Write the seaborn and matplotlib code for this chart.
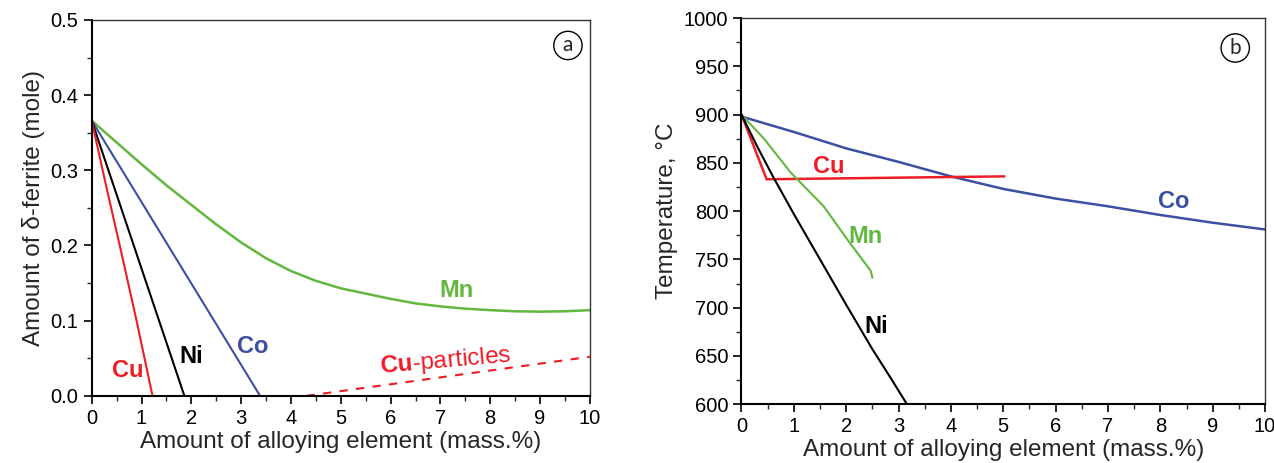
import numpy as np
import pandas as pd
import matplotlib
matplotlib.use("Agg")
import matplotlib.pyplot as plt
import seaborn as sns

# ---------- data: panel (a) ----------
cu_a_x = [0.0, 0.3, 0.6, 0.9, 1.22]
cu_a_y = [0.366, 0.276, 0.189, 0.100, 0.0]
ni_a_x = [0.0, 1.86]
ni_a_y = [0.366, 0.0]
co_a_x = [0.0, 3.38]
co_a_y = [0.366, 0.0]
mn_a_x = [0.0, 0.5, 1.0, 1.5, 2.0, 2.5, 3.0, 3.5, 4.0, 4.5, 5.0, 5.5,
          6.0, 6.5, 7.0, 7.5, 8.0, 8.5, 9.0, 9.5, 10.0]
mn_a_y = [0.366, 0.337, 0.308, 0.280, 0.254, 0.228, 0.204, 0.183, 0.166,
          0.153, 0.143, 0.136, 0.129, 0.123, 0.119, 0.116, 0.114, 0.1125,
          0.112, 0.1125, 0.114]
cup_a_x = [4.31, 10.0]
cup_a_y = [0.0, 0.052]

# ---------- data: panel (b) ----------
co_b_x = [0, 1, 2, 3, 4, 5, 6, 7, 8, 9, 10]
co_b_y = [898, 882, 865, 851, 836, 823, 813, 805, 796, 788, 781]
cu_b_x = [0.0, 0.48, 5.02]
cu_b_y = [900, 833, 836]
mn_b_x = [0.0, 0.43, 0.94, 1.57, 2.03, 2.47, 2.50]
mn_b_y = [900, 875, 840, 805, 770, 738, 731]
ni_b_x = [0.0, 0.3, 0.6, 1.0, 1.5, 2.0, 2.5, 2.84, 3.16]
ni_b_y = [900, 867, 836, 797, 750, 703, 657, 628, 600]

RED = "#ee1c25"
GREEN = "#62b73f"
BLUE = "#3c4fa3"
BLACK = "#000000"

sns.set_style("ticks")
plt.rcParams["font.family"] = ["Liberation Sans", "DejaVu Sans"]
plt.rcParams["mathtext.fontset"] = "custom"
plt.rcParams["mathtext.rm"] = "Liberation Sans"
plt.rcParams["mathtext.bf"] = "Liberation Sans:bold"

fig = plt.figure(figsize=(12.74, 4.63), dpi=100)
axA = fig.add_axes([0.072, 0.145, 0.391, 0.812])
axB = fig.add_axes([0.582, 0.127, 0.411, 0.834])


def style_axes(ax):
    for s in ["left", "bottom"]:
        ax.spines[s].set_linewidth(1.5)
        ax.spines[s].set_color("black")
    for s in ["top", "right"]:
        ax.spines[s].set_linewidth(1.0)
        ax.spines[s].set_color("#333333")
    ax.tick_params(which="major", direction="out", length=6, width=1.2,
                   labelsize=14.5, colors="black")
    ax.tick_params(which="minor", direction="out", length=3.5, width=1.0)


def line(ax, x, y, color, lw=1.5, ls="-"):
    df = pd.DataFrame({"x": x, "y": y})
    sns.lineplot(data=df, x="x", y="y", ax=ax, color=color, lw=lw,
                 linestyle=ls, sort=False, estimator=None)


# ---------- panel (a) ----------
line(axA, mn_a_x, mn_a_y, GREEN, lw=1.8)
line(axA, co_a_x, co_a_y, BLUE)
line(axA, ni_a_x, ni_a_y, BLACK)
line(axA, cu_a_x, cu_a_y, RED)
axA.plot(cup_a_x, cup_a_y, color=RED, lw=1.5, ls=(0, (4, 4)))

axA.set_xlim(0, 10)
axA.set_ylim(0, 0.5)
axA.set_xticks(np.arange(0, 11, 1))
axA.set_xticks(np.arange(0.5, 10, 1), minor=True)
axA.set_yticks(np.arange(0, 0.51, 0.1))
axA.set_yticks(np.arange(0.05, 0.5, 0.1), minor=True)
axA.set_yticklabels([f"{v:.1f}" for v in np.arange(0, 0.51, 0.1)])
axA.set_xlabel("Amount of alloying element (mass.%)", fontsize=17.5, labelpad=2)
axA.set_ylabel("Amount of δ-ferrite (mole)", fontsize=17.5, labelpad=4)
style_axes(axA)

lab = dict(fontsize=17, fontweight="bold", ha="center", va="center")
axA.text(0.72, 0.034, "Cu", color=RED, **lab)
axA.text(2.0, 0.053, "Ni", color=BLACK, **lab)
axA.text(3.24, 0.066, "Co", color=BLUE, **lab)
axA.text(7.33, 0.140, "Mn", color=GREEN, **lab)
axA.text(7.1, 0.046, r"$\mathbf{Cu}$-particles", color=RED, fontsize=17.5,
         ha="center", va="center", rotation=5)
axA.text(9.56, 0.466, "a", fontsize=15, ha="center", va="center",
         family="Lato",
         bbox=dict(boxstyle="circle,pad=0.2", fc="white", ec="black", lw=1.0))

# ---------- panel (b) ----------
line(axB, co_b_x, co_b_y, BLUE, lw=1.8)
line(axB, cu_b_x, cu_b_y, RED, lw=1.8)
line(axB, mn_b_x, mn_b_y, GREEN)
line(axB, ni_b_x, ni_b_y, BLACK)

axB.set_xlim(0, 10)
axB.set_ylim(600, 1000)
axB.set_xticks(np.arange(0, 11, 1))
axB.set_xticks(np.arange(0.5, 10, 1), minor=True)
axB.set_yticks(np.arange(600, 1001, 50))
axB.set_yticks(np.arange(625, 1000, 50), minor=True)
axB.set_xlabel("Amount of alloying element (mass.%)", fontsize=17.5, labelpad=2)
axB.set_ylabel("Temperature, °C", fontsize=17.5, labelpad=4)
style_axes(axB)

axB.text(1.67, 846, "Cu", color=RED, **lab)
axB.text(2.37, 774, "Mn", color=GREEN, **lab)
axB.text(2.58, 680, "Ni", color=BLACK, **lab)
axB.text(8.25, 810, "Co", color=BLUE, **lab)
axB.text(9.43, 969, "b", fontsize=15, ha="center", va="center",
         family="Lato",
         bbox=dict(boxstyle="circle,pad=0.2", fc="white", ec="black", lw=1.0))

fig.savefig("out.png", dpi=100)
